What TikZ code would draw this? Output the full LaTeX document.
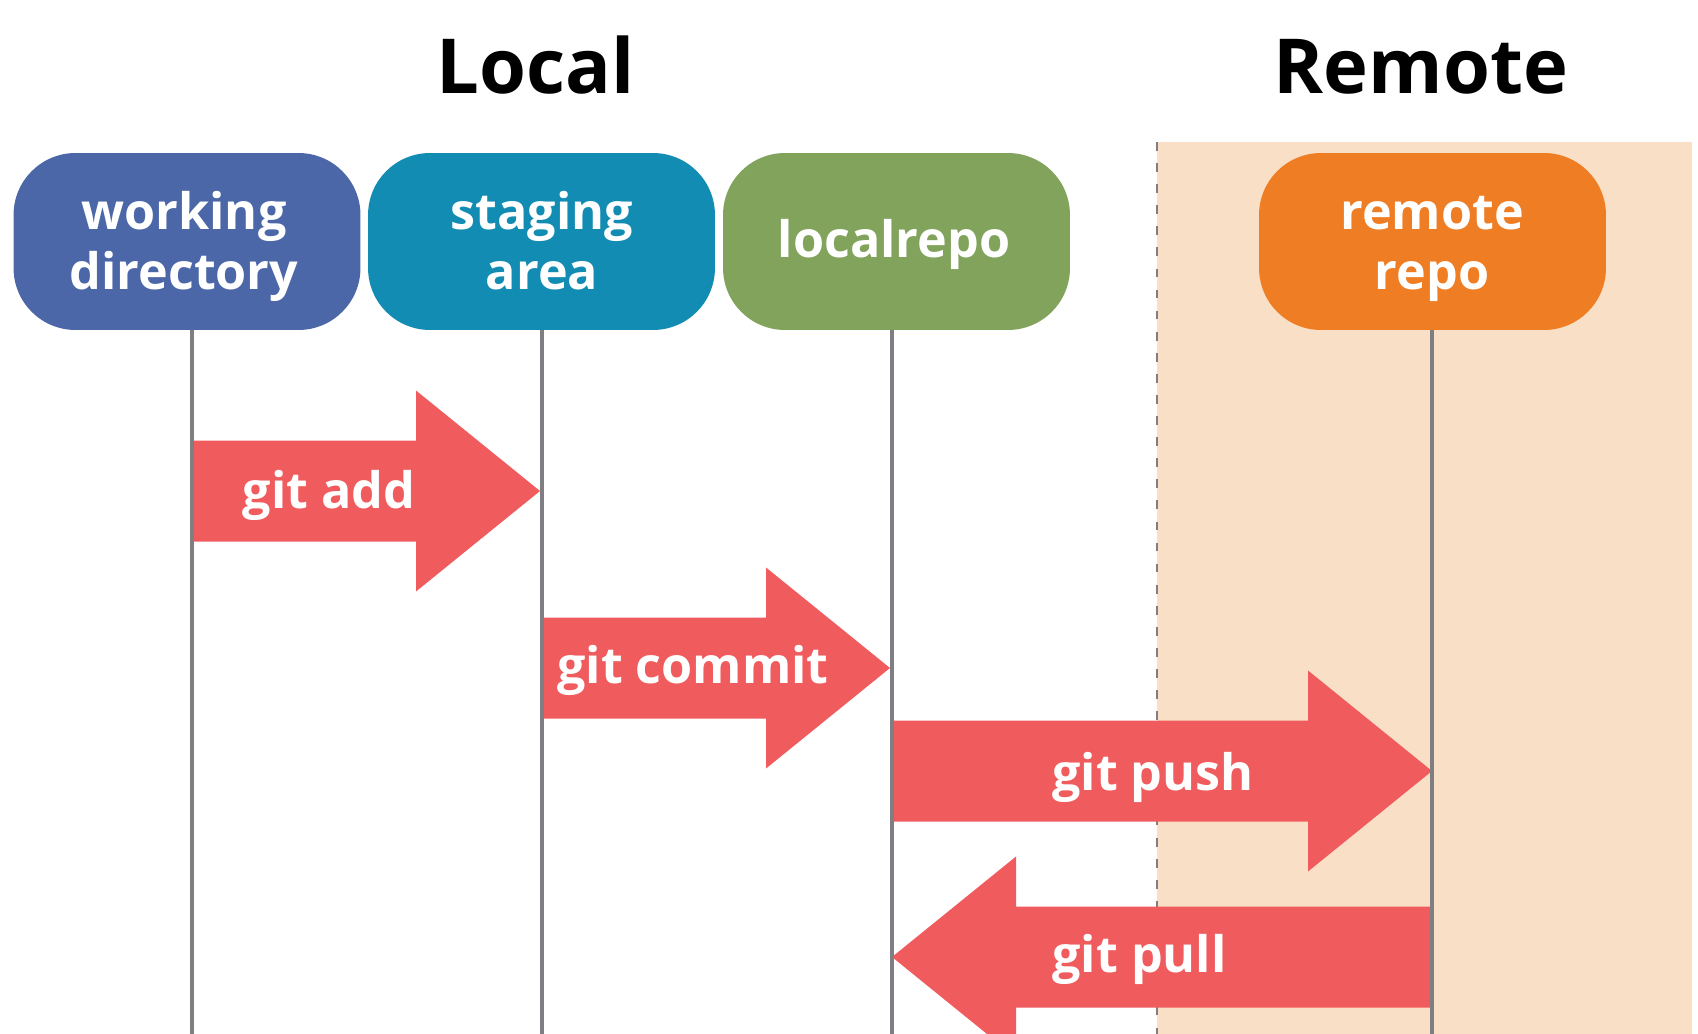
\documentclass[tikz,border=0pt]{standalone}
\usepackage{fontspec}
\setmainfont{Open Sans}
\usetikzlibrary{calc}
\definecolor{wdcol}{HTML}{4B67A8}
\definecolor{stcol}{HTML}{138CB4}
\definecolor{lrcol}{HTML}{81A35C}
\definecolor{rmcol}{HTML}{EE7D24}
\definecolor{peach}{HTML}{F9DFC5}
\definecolor{arrowcol}{HTML}{F05B5E}
\definecolor{lanecol}{HTML}{7F7F83}
\newcommand\rarrow[3]{\fill[fatarrow] (#1,#3-50.5) -- (#2-124,#3-50.5) -- (#2-124,#3-100.5) -- (#2,#3) -- (#2-124,#3+100.5) -- (#2-124,#3+50.5) -- (#1,#3+50.5) -- cycle;}
\newcommand\larrow[3]{\fill[fatarrow] (#1,#3-50.5) -- (#2+124,#3-50.5) -- (#2+124,#3-100.5) -- (#2,#3) -- (#2+124,#3+100.5) -- (#2+124,#3+50.5) -- (#1,#3+50.5) -- cycle;}
\begin{document}
\begin{tikzpicture}[x=0.02cm,y=-0.02cm,
  repobox/.style={draw=none,rectangle,rounded corners=1.24cm,minimum width=6.94cm,minimum height=3.54cm,inner sep=0pt,outer sep=0pt},
  boxtext/.style={text=white,font=\fontsize{28.6}{34}\selectfont\bfseries,anchor=base,inner sep=0pt},
  arrowtext/.style={text=white,font=\fontsize{28.6}{34}\selectfont\bfseries,anchor=base,inner sep=0pt},
  title/.style={text=black,font=\fontsize{43.2}{50}\selectfont\bfseries,anchor=base,inner sep=0pt},
  lane/.style={draw=lanecol,line width=2.3pt},
  dashline/.style={draw=lanecol,line width=0.7pt,dash pattern=on 5pt off 7pt},
  fatarrow/.style={fill=arrowcol}]
\useasboundingbox (0,0) rectangle (1698,1034);
\fill[white] (0,0) rectangle (1698,1034);
% remote area
\fill[peach] (1157,142) rectangle (1692,1034);
\coordinate (dtop) at (1157,142);
\coordinate (dbot) at (1157,1034);
\draw[dashline] (dtop) -- (dbot);
% titles
\node[title] (tlocal) at (535.5,94) {Local};
\node[title] (tremote) at (1421,94) {Remote};
% boxes
\node[repobox,fill=wdcol] (wd) at (187,241.5) {};
\node[repobox,fill=stcol] (st) at (541.5,241.5) {};
\node[repobox,fill=lrcol] (lr) at (896.5,241.5) {};
\node[repobox,fill=rmcol] (rm) at (1432.5,241.5) {};
\node[boxtext] (wd1) at (184,230) {working};
\node[boxtext] (wd2) at (184,289) {directory};
\node[boxtext] (st1) at (542,230) {staging};
\node[boxtext] (st2) at (542,289) {area};
\node[boxtext] (lr1) at (894,257) {localrepo};
\node[boxtext] (rm1) at (1432,230) {remote};
\node[boxtext] (rm2) at (1432,289) {repo};
% arrows
\rarrow{192}{540}{491}
\rarrow{542}{890}{668}
\rarrow{892}{1432}{771}
\larrow{1432}{892}{957}
% lanes
\coordinate (wdend) at (192,1034);
\coordinate (stend) at (542,1034);
\coordinate (lrend) at (892,1034);
\coordinate (rmend) at (1432,1034);
\draw[lane] (wd.south -| wdend) -- (wdend);
\draw[lane] (st.south -| stend) -- (stend);
\draw[lane] (lr.south -| lrend) -- (lrend);
\draw[lane] (rm.south -| rmend) -- (rmend);
% arrow labels
\node[arrowtext] (ladd) at (329,508) {git add};
\node[arrowtext] (lcommit) at (693,683) {git commit};
\node[arrowtext] (lpush) at (1153,790) {git push};
\node[arrowtext] (lpull) at (1139.5,972) {git pull};
\end{tikzpicture}
\end{document}
